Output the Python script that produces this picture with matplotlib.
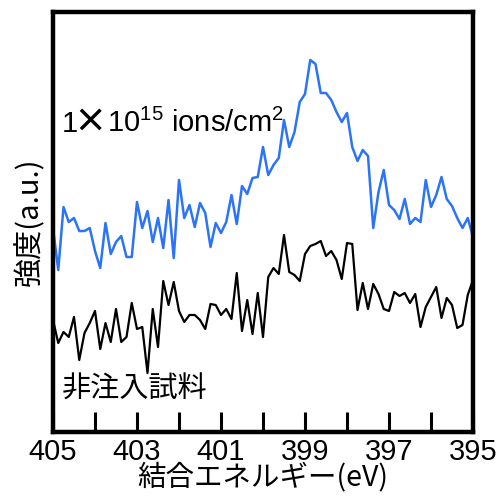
import numpy as np
import matplotlib
matplotlib.use('Agg')
import matplotlib.pyplot as plt
from matplotlib.ticker import FixedLocator

plt.rcParams['font.family'] = ['Liberation Sans', 'Noto Sans CJK JP', 'DejaVu Sans']
plt.rcParams['mathtext.fontset'] = 'custom'
plt.rcParams['mathtext.rm'] = 'Liberation Sans'
plt.rcParams['mathtext.default'] = 'regular'
jp = ['Noto Sans CJK JP', 'DejaVu Sans']

# 結合エネルギー (eV), 0.125 eV 刻み
energy = np.linspace(405, 395, 81)

# 1x10^15 ions/cm^2 注入試料 (a.u.)
implanted = [204, 162, 225, 210, 214, 201, 201, 204, 181, 164,
             209, 178, 190, 196, 175, 175, 230, 204, 221, 190,
             214, 184, 232, 174, 252, 214, 227, 205, 229, 219,
             185, 209, 199, 210, 237, 208, 246, 238, 254, 255,
             285, 257, 267, 274, 312, 285, 300, 330, 338, 372,
             368, 339, 339, 332, 320, 310, 319, 285, 271, 282,
             276, 204, 240, 262, 227, 222, 213, 233, 208, 214,
             210, 252, 225, 237, 255, 233, 226, 214, 204, 214, 195]

# 非注入試料 (a.u.)
reference = [112, 89, 100, 95, 115, 72, 99, 109, 121, 83,
             109, 90, 123, 90, 95, 129, 103, 105, 59, 123,
             85, 151, 127, 150, 121, 110, 117, 117, 112, 103,
             128, 127, 117, 123, 113, 159, 101, 132, 98, 139,
             95, 155, 164, 158, 197, 160, 157, 151, 178, 186,
             188, 191, 176, 181, 172, 153, 189, 188, 122, 149,
             123, 148, 138, 123, 121, 140, 136, 139, 129, 138,
             105, 125, 135, 145, 114, 134, 127, 104, 107, 137, 152]

label_ticks = [405, 403, 401, 399, 397, 395]
mid_ticks = [404, 402, 400, 398, 396]

fig = plt.figure(figsize=(4.99, 4.97), dpi=100)
ax = fig.add_axes([53 / 499, 65 / 497, 420 / 499, 420 / 497])

ax.plot(energy, implanted, color='#2b74f7', lw=1.8)
ax.plot(energy, reference, color='black', lw=1.6)

ax.set_xlim(405, 395)
ax.set_ylim(0, 420)

ax.xaxis.set_major_locator(FixedLocator(label_ticks))
ax.xaxis.set_minor_locator(FixedLocator(mid_ticks))
ax.tick_params(axis='x', which='both', direction='in', length=14.5, width=2.2,
               labelsize=21, pad=4)
ax.set_yticks([])
for s in ax.spines.values():
    s.set_linewidth(3.2)

ax.set_xlabel('結合エネルギー(eV)', fontsize=20.5, labelpad=-2, family=jp)
ax.set_ylabel('強度(a.u.)', fontsize=21, labelpad=6, family=jp)

# 1×10^15 ions/cm^2
ax.text(404.8, 300, '1', fontsize=21, va='baseline')
ax.text(404.11, 310, '×', fontsize=24, fontweight='bold', va='center',
        ha='center', family=jp)
ax.text(403.71, 300, r'10$^{15}$ ions/cm$^{2}$', fontsize=21, va='baseline')
ax.text(404.8, 42, '非注入試料', fontsize=21, va='center', family=jp)

fig.savefig('out.png', dpi=100)
